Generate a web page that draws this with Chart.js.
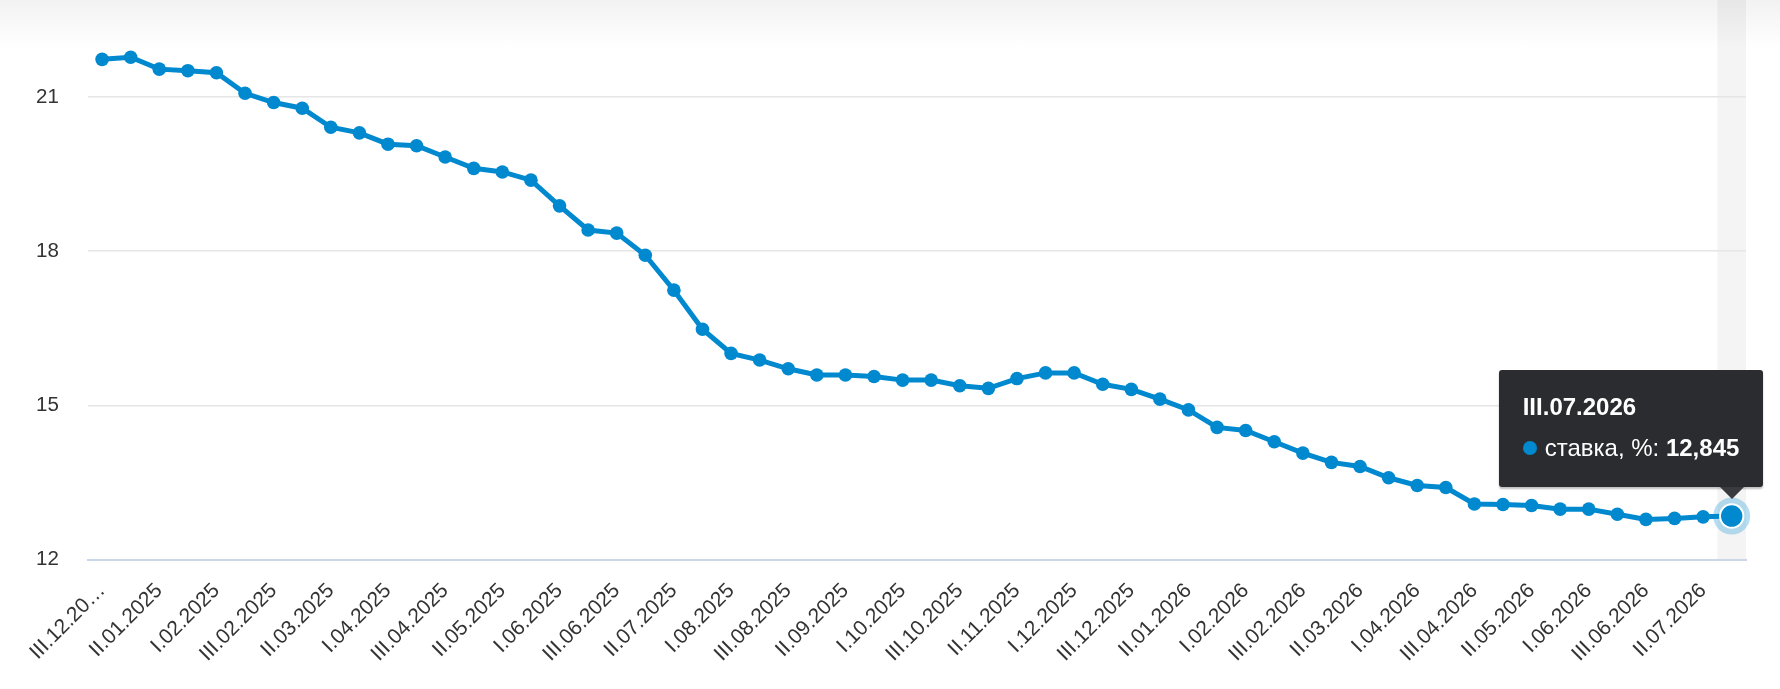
<!DOCTYPE html>
<html lang="ru">
<head>
<meta charset="utf-8">
<title>ставка, %</title>
<script src="https://cdn.jsdelivr.net/npm/chart.js@4/dist/chart.umd.min.js"></script>
<style>
  html, body { margin: 0; padding: 0; }
  body {
    width: 1780px; height: 689px; overflow: hidden;
    background: #fff linear-gradient(#f2f2f2 0, #fff 48px) no-repeat;
    font-family: "Liberation Sans", Arial, sans-serif;
  }
  #wrap { position: relative; width: 1780px; height: 689px; }
  #tip {
    position: absolute; left: 0; top: 0; opacity: 0;
    background: #2b2c30; color: #fff; border-radius: 3px;
    padding: 23px 24px 25px 24px;
    font-size: 24px; line-height: 28px; white-space: nowrap;
    box-shadow: 0 2px 2px rgba(0, 0, 0, 0.25);
    pointer-events: none;
  }
  #tip .ttl { font-weight: bold; }
  #tip .row { display: flex; align-items: center; margin-top: 13px; }
  #tip .dot { width: 14px; height: 14px; border-radius: 50%; background: #0089cf; margin-right: 8px; }
  #tip .val { font-weight: bold; }
  #caret {
    position: absolute; left: 0; top: 0; width: 0; height: 0; opacity: 0;
    border-left: 12px solid transparent; border-right: 12px solid transparent;
    border-top: 12px solid #3a3b3f;
  }
</style>
</head>
<body>
<div id="wrap">
  <canvas id="chart"></canvas>
  <div id="tip"><div class="ttl"></div><div class="row"><span class="dot"></span><span class="name"></span>&nbsp;<span class="val"></span></div></div>
  <div id="caret"></div>
</div>
<script>
var labels = [
    'III.12.2024', 'I.01.2025', 'II.01.2025', 'III.01.2025', 'I.02.2025', 'II.02.2025', 'III.02.2025',
    'I.03.2025', 'II.03.2025', 'III.03.2025', 'I.04.2025', 'II.04.2025', 'III.04.2025',
    'I.05.2025', 'II.05.2025', 'III.05.2025', 'I.06.2025', 'II.06.2025', 'III.06.2025',
    'I.07.2025', 'II.07.2025', 'III.07.2025', 'I.08.2025', 'II.08.2025', 'III.08.2025',
    'I.09.2025', 'II.09.2025', 'III.09.2025', 'I.10.2025', 'II.10.2025', 'III.10.2025',
    'I.11.2025', 'II.11.2025', 'III.11.2025', 'I.12.2025', 'II.12.2025', 'III.12.2025',
    'I.01.2026', 'II.01.2026', 'III.01.2026', 'I.02.2026', 'II.02.2026', 'III.02.2026',
    'I.03.2026', 'II.03.2026', 'III.03.2026', 'I.04.2026', 'II.04.2026', 'III.04.2026',
    'I.05.2026', 'II.05.2026', 'III.05.2026', 'I.06.2026', 'II.06.2026', 'III.06.2026',
    'I.07.2026', 'II.07.2026', 'III.07.2026'
];
var rate = [
    21.73, 21.77, 21.54, 21.51, 21.47, 21.07, 20.89,
    20.78, 20.41, 20.30, 20.08, 20.05, 19.83,
    19.61, 19.54, 19.38, 18.88, 18.41, 18.35,
    17.92, 17.24, 16.48, 16.01, 15.88, 15.71,
    15.59, 15.59, 15.56, 15.49, 15.49, 15.38,
    15.33, 15.52, 15.63, 15.63, 15.41, 15.31,
    15.12, 14.91, 14.57, 14.51, 14.29, 14.07,
    13.89, 13.81, 13.59, 13.44, 13.40, 13.08,
    13.07, 13.05, 12.98, 12.98, 12.88, 12.78,
    12.80, 12.83, 12.845
];
var seriesName = 'ставка, %';
var yTicks = [12, 15, 18, 21];
var yMin = 12;
var yMax = 22.885;

const BLUE = '#0089cf';
const FONT = '"Liberation Sans", Arial, sans-serif';
const tipEl = document.getElementById('tip');
const caretEl = document.getElementById('caret');

function formatValue(v) {
    return String(v).replace('.', ',');
}

// grey column and halo round the hovered point
const hoverMarks = {
    id: 'hoverMarks',
    beforeDraw(chart) {
        const active = chart.getActiveElements();
        if (!active.length) return;
        const x = chart.scales.x;
        const w = x.getPixelForValue(1) - x.getPixelForValue(0);
        const px = x.getPixelForValue(active[0].index);
        const ctx = chart.ctx;
        ctx.save();
        ctx.fillStyle = 'rgba(0, 0, 0, 0.045)';
        ctx.fillRect(px - w / 2, 0, w, chart.chartArea.bottom);
        ctx.restore();
    },
    afterDatasetsDraw(chart) {
        const active = chart.getActiveElements();
        if (!active.length) return;
        const pt = active[0].element;
        const ctx = chart.ctx;
        ctx.save();
        ctx.beginPath();
        ctx.arc(pt.x, pt.y, 18.5, 0, Math.PI * 2);
        ctx.arc(pt.x, pt.y, 12.7, 0, Math.PI * 2, true);
        ctx.fillStyle = 'rgba(0, 137, 207, 0.28)';
        ctx.fill();
        ctx.restore();
    }
};

function externalTip(context) {
    const tooltip = context.tooltip;
    if (!tooltip.dataPoints || !tooltip.dataPoints.length) {
        tipEl.style.opacity = 0;
        caretEl.style.opacity = 0;
        return;
    }
    const dp = tooltip.dataPoints[0];
    tipEl.querySelector('.ttl').textContent = dp.label;
    tipEl.querySelector('.name').textContent = dp.dataset.label + ':';
    tipEl.querySelector('.val').textContent = formatValue(dp.raw);
    const cx = tooltip.caretX;
    const cy = tooltip.caretY;
    tipEl.style.left = (cx + 32 - tipEl.offsetWidth) + 'px';
    tipEl.style.top = (cy - 29 - tipEl.offsetHeight) + 'px';
    caretEl.style.left = (cx - 12) + 'px';
    caretEl.style.top = (cy - 29) + 'px';
    tipEl.style.opacity = 1;
    caretEl.style.opacity = 1;
}

const chart = new Chart(document.getElementById('chart'), {
    type: 'line',
    data: {
        labels: labels,
        datasets: [{
            label: seriesName,
            data: rate,
            borderColor: BLUE,
            backgroundColor: BLUE,
            borderWidth: 5,
            tension: 0,
            pointRadius: 6.8,
            pointBorderWidth: 0,
            pointBackgroundColor: BLUE,
            pointHoverRadius: 11.7,
            pointHoverBorderWidth: 2,
            pointHoverBorderColor: '#fff',
            pointHoverBackgroundColor: BLUE
        }]
    },
    options: {
        responsive: true,
        maintainAspectRatio: false,
        animation: false,
        events: [],
        layout: { autoPadding: false, padding: { left: 7, right: 34, top: 0, bottom: 3.5 } },
        plugins: {
            legend: { display: false },
            tooltip: { enabled: false, external: externalTip }
        },
        scales: {
            x: {
                offset: true,
                grid: { display: false, drawTicks: false },
                border: { color: '#ccd6eb', width: 2 },
                ticks: {
                    autoSkip: false,
                    minRotation: 45,
                    maxRotation: 45,
                    padding: 19,
                    labelOffset: 0,
                    color: '#333',
                    font: { family: FONT, size: 21 },
                    callback: function (value, index) {
                        if (index % 2) return '';
                        const s = this.getLabelForValue(value);
                        // the first label is cut short in the original
                        return index === 0 ? s.slice(0, 9) + '…' : s;
                    }
                },
                afterFit: function (scale) {
                    scale.paddingLeft = 0;
                    scale.paddingRight = 0;
                }
            },
            y: {
                min: yMin,
                max: yMax,
                border: { display: false },
                grid: {
                    drawTicks: false,
                    lineWidth: 1.5,
                    color: ctx => ctx.tick && ctx.tick.value === yMin ? 'rgba(0,0,0,0)' : '#e6e6e6'
                },
                ticks: {
                    padding: 29,
                    color: '#333',
                    font: { family: FONT, size: 20.5 }
                },
                afterBuildTicks: function (scale) {
                    scale.ticks = yTicks.map(v => ({ value: v }));
                },
                afterFit: function (scale) {
                    scale.paddingTop = 0;
                }
            }
        }
    },
    plugins: [hoverMarks]
});

var last = rate.length - 1;
chart.setActiveElements([{ datasetIndex: 0, index: last }]);
chart.tooltip.setActiveElements([{ datasetIndex: 0, index: last }], { x: 0, y: 0 });
chart.update();
</script>
</body>
</html>
